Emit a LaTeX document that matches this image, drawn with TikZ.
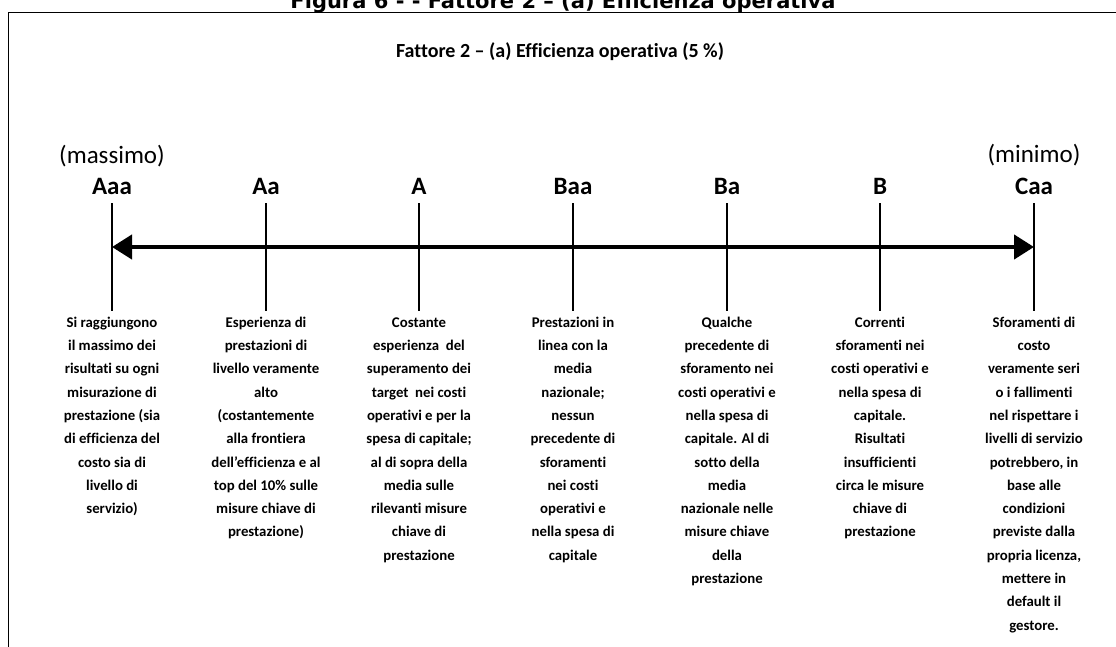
\documentclass[tikz,border=0pt]{standalone}
\usepackage{fontspec}
\setmainfont{Carlito}[Ligatures={TeX,NoCommon}]
\newfontfamily\figfont{DejaVu Sans}
\usepackage{tikz}
\usetikzlibrary{arrows.meta}
\newcommand{\firstln}{\rule{0pt}{11pt}}

\begin{document}
\begin{tikzpicture}[x=1pt, y=-1pt,
  rating/.style={anchor=base, inner xsep=0pt, inner ysep=8pt, font=\fontsize{25}{30}\selectfont\bfseries},
  bound/.style={anchor=base, inner sep=0pt, font=\fontsize{25}{30}\selectfont},
  desc/.style={anchor=north, align=center, inner sep=5pt, font=\fontsize{14.8}{23.3}\selectfont\bfseries},
  tick/.style={line width=1.1pt},
  axis/.style={line width=4.3pt, {Triangle[length=20pt,width=24pt]}-{Triangle[length=20pt,width=24pt]}}]
  \fill[white] (0,0) rectangle (1116,647);
  \useasboundingbox (0,0) rectangle (1116,647);
  % titolo della figura, tagliato in alto
  \node[anchor=base, font=\figfont\fontsize{21}{24}\selectfont\bfseries] (figtitle) at (563,8.5) {Figura 6 - - Fattore 2 – (a) Efficienza operativa};
  \draw[line width=1.3pt] (1120,12.3) -- (8.3,12.3) -- (8.3,652);
  \node[anchor=base, font=\fontsize{20}{24}\selectfont\bfseries] (subtitle) at (560,58) {Fattore 2 – (a) Efficienza operativa (5 \%)};

  % estremi della scala
  \node[bound] (max) at (112,164) {(massimo)};
  \node[bound] (min) at (1034,163) {(minimo)};

  % classi di rating
  \node[rating] (Aaa) at (112,195) {Aaa};
  \node[rating] (Aa)  at (266,195) {Aa};
  \node[rating] (A)   at (419,195) {A};
  \node[rating] (Baa) at (573,195) {Baa};
  \node[rating] (Ba)  at (727,195) {Ba};
  \node[rating] (B)   at (880,195) {B};
  \node[rating] (Caa) at (1034,195) {Caa};

  % descrizioni
  \node[desc] (dAaa) at (112,311) {\firstln Si raggiungono\\il massimo dei\\risultati su ogni\\misurazione di\\prestazione (sia\\di efficienza del\\costo sia di\\livello di\\servizio)};
  \node[desc] (dAa) at (266,311) {\firstln Esperienza di\\prestazioni di\\livello veramente\\alto\\(costantemente\\alla frontiera\\dell’efficienza e al\\top del 10\% sulle\\misure chiave di\\prestazione)};
  \node[desc] (dA) at (419,311) {\firstln Costante\\esperienza~ del\\superamento dei\\target~ nei costi\\operativi e per la\\spesa di capitale;\\al di sopra della\\media sulle\\rilevanti misure\\chiave di\\prestazione};
  \node[desc] (dBaa) at (573,311) {\firstln Prestazioni in\\linea con la\\media\\nazionale;\\nessun\\precedente di\\sforamenti\\nei costi\\operativi e\\nella spesa di\\capitale};
  \node[desc] (dBa) at (727,311) {\firstln Qualche\\precedente di\\sforamento nei\\costi operativi e\\nella spesa di\\capitale. Al di\\sotto della\\media\\nazionale nelle\\misure chiave\\della\\prestazione};
  \node[desc] (dB) at (880,311) {\firstln Correnti\\sforamenti nei\\costi operativi e\\nella spesa di\\capitale.\\Risultati\\insufficienti\\circa le misure\\chiave di\\prestazione};
  \node[desc] (dCaa) at (1034,311) {\firstln Sforamenti di\\costo\\veramente seri\\o i fallimenti\\nel rispettare i\\livelli di servizio\\potrebbero, in\\base alle\\condizioni\\previste dalla\\propria licenza,\\mettere in\\default il\\gestore.};

  % tacche
  \draw[tick] (Aaa.south) -- (dAaa.north);
  \draw[tick] (Aa.south) -- (dAa.north);
  \draw[tick] (A.south) -- (dA.north);
  \draw[tick] (Baa.south) -- (dBaa.north);
  \draw[tick] (Ba.south) -- (dBa.north);
  \draw[tick] (B.south) -- (dB.north);
  \draw[tick] (Caa.south) -- (dCaa.north);

  % asse
  \coordinate (axisL) at (112,247);
  \coordinate (axisR) at (1034,247);
  \draw[axis] (axisL) -- (axisR);
\end{tikzpicture}
\end{document}
